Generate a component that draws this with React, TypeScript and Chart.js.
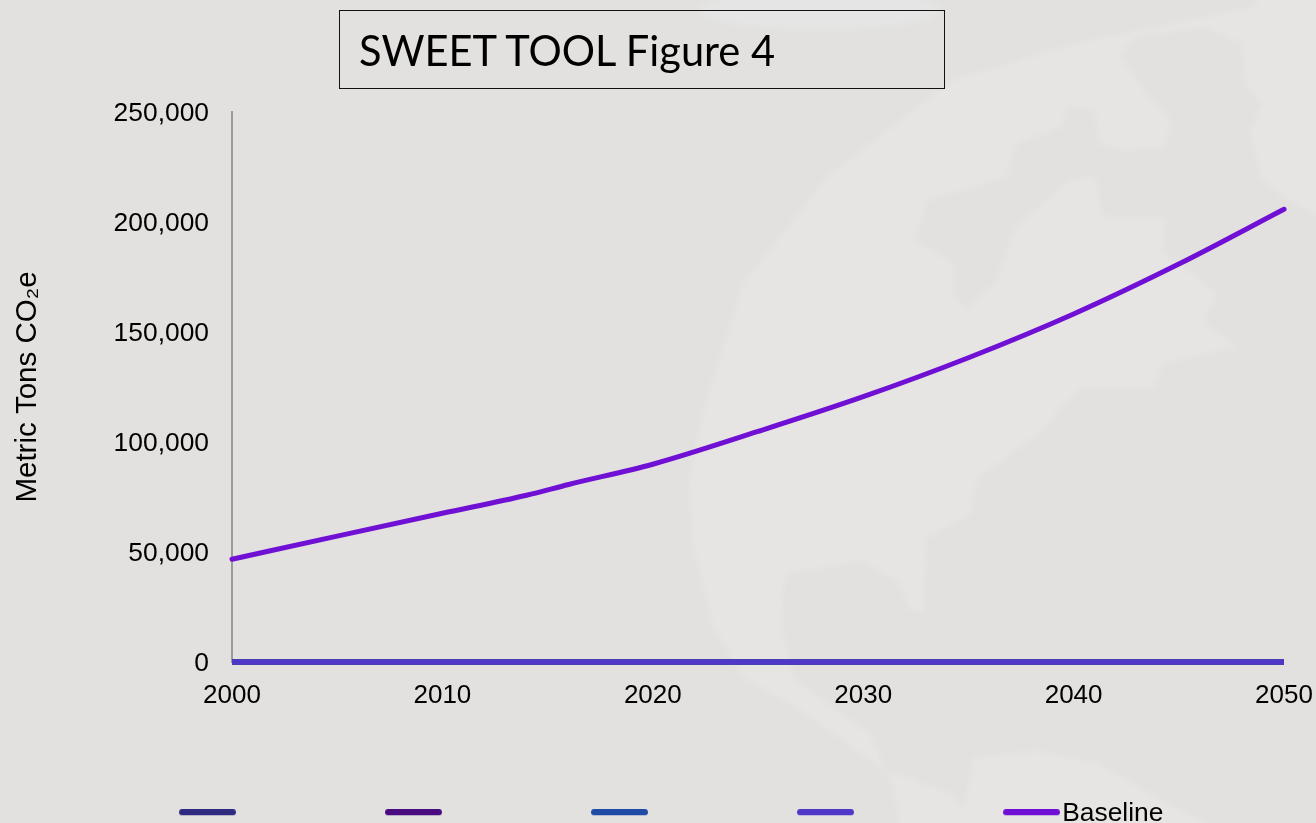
import React, { useEffect, useRef } from "react";
import { Chart, registerables } from "chart.js";

Chart.register(...registerables);

const years = [2000, 2005, 2010, 2014, 2016, 2020, 2025, 2030, 2035, 2040, 2045, 2050];
const baseline = [46700, 57200, 67600, 75800, 80700, 89900, 104800, 120600, 138300, 158200, 180900, 205800];
const scenarioA = [0, 0, 0, 0, 0, 0, 0, 0, 0, 0, 0, 0];
const scenarioB = [0, 0, 0, 0, 0, 0, 0, 0, 0, 0, 0, 0];
const scenarioC = [0, 0, 0, 0, 0, 0, 0, 0, 0, 0, 0, 0];
const scenarioD = [0, 0, 0, 0, 0, 0, 0, 0, 0, 0, 0, 0];
const seriesLabels = ["", "", "", "", "Baseline"];
const seriesColors = ["#2f2a80", "#4a0a80", "#1f4aa6", "#4f38c8", "#7010d4"];
const seriesValues = [scenarioA, scenarioB, scenarioC, scenarioD, baseline];
const yTicksMax = 250000;
const yTickStep = 50000;
const titleText = "SWEET TOOL Figure 4";
const yTitle = "Metric Tons CO\u2082e";

const LAND =
  "1254,7 1078,43 953,80 827,177 744,283 706,400 689,478 693,544 714,628 744,678 798,708 848,744 886,771 953,794 974,823 1000,830 " +
  "900,830 894,787 869,733 844,716 794,678 781,624 785,574 861,561 898,581 911,611 924,611 926,538 970,514 978,478 1045,428 1057,411 " +
  "1083,387 1154,387 1162,363 1237,347 1204,323 1216,293 1183,267 1162,253 1166,217 1103,217 1095,177 1070,180 1016,227 995,283 965,310 953,293 953,263 915,240 " +
  "928,200 1007,177 1016,143 1062,127 1066,107 1095,110 1099,143 1120,150 1166,147 1170,120 1141,87 1120,57 1133,37 1204,27 1242,43 1246,87 1262,103 1250,133 " +
  "1262,180 1284,197 1320,217 1320,-5 1260,-5";
const SOUTH = "974,758 1037,751 1099,764 1162,801 1221,830 960,830";

function makeBar(color: string) {
  const c = document.createElement("canvas");
  c.width = 57;
  c.height = 10;
  const g = c.getContext("2d")!;
  g.fillStyle = color;
  g.beginPath();
  g.roundRect(0, 0, 57, 6, 3);
  g.fill();
  return c;
}

export default function App() {
  const ref = useRef<HTMLCanvasElement>(null);
  useEffect(() => {
    const placeLegend = {
      id: "placeLegend",
      beforeLayout(chart: any) {
        const lg = chart.legend;
        if (lg && !lg.__patched) {
          lg.__patched = true;
          const orig = lg.fit;
          lg.fit = function () {
            this.maxWidth = 5000;
            orig.call(this);
            this.width = 1316;
            this.height = 20;
          };
        }
      },
      afterLayout(chart: any) {
        const lg = chart.legend;
        const pad = lg.options.labels.padding;
        lg.left = 190 - pad;
        lg.right = 3000;
        lg.top = 801 - pad;
        lg.bottom = 823;
      },
    };
    const chart = new Chart(ref.current!, {
      type: "line",
      data: {
        datasets: seriesValues.map((vals, i) => ({
          label: seriesLabels[i],
          data: years.map((y, j) => ({ x: y, y: vals[j] })),
          borderColor: seriesColors[i],
          backgroundColor: seriesColors[i],
          borderWidth: 5,
          borderCapStyle: i === 4 ? "round" : "butt",
          pointRadius: 0,
          cubicInterpolationMode: "monotone",
          clip: false,
          order: i === 3 ? 0 : i === 4 ? 1 : 5 - i,
        })),
      },
      options: {
        animation: false,
        responsive: false,
        layout: { padding: { top: 112, right: 32, left: 0, bottom: 0 } },
        plugins: {
          title: { display: false },
          tooltip: { enabled: false },
          legend: {
            display: true,
            position: "bottom",
            align: "start",
            labels: {
              usePointStyle: true,
              pointStyleWidth: 35,
              padding: 157.8,
              color: "#000",
              font: { family: "'Liberation Sans'", size: 26.4 },
              generateLabels: () =>
                seriesLabels.map((t, i) => ({
                  text: t,
                  datasetIndex: i,
                  pointStyle: makeBar(seriesColors[i]),
                  fontColor: "#000",
                  hidden: false,
                  lineWidth: 0,
                  strokeStyle: "transparent",
                  fillStyle: seriesColors[i],
                })),
            },
          },
        },
        scales: {
          x: {
            type: "linear",
            min: years[0],
            max: years[years.length - 1],
            afterFit(s: any) {
              s.height = 141;
              s.paddingLeft = 0;
              s.paddingRight = 0;
            },
            grid: { display: false, drawTicks: false },
            border: { display: false },
            ticks: {
              stepSize: 10,
              padding: 18,
              color: "#000",
              maxRotation: 0,
              font: { family: "'Liberation Sans'", size: 26 },
              callback: (v: any) => String(v),
            },
          },
          y: {
            min: 0,
            max: yTicksMax,
            afterFit(s: any) {
              s.width = 232;
              s.paddingTop = 0;
              s.paddingBottom = 0;
            },
            grid: { display: false, drawTicks: false },
            border: { display: true, color: "#9a9a98", width: 2 },
            title: {
              display: true,
              text: yTitle,
              color: "#000",
              font: { family: "'Liberation Sans'", size: 29.5 },
              padding: { top: 10, bottom: 0 },
            },
            ticks: {
              stepSize: yTickStep,
              padding: 23,
              color: "#000",
              labelOffset: 2,
              font: { family: "'Liberation Sans'", size: 26.4 },
              callback: (v: any) => Number(v).toLocaleString("en-US"),
            },
          },
        },
      } as any,
      plugins: [placeLegend as any],
    });
    return () => chart.destroy();
  }, []);
  return (
    <div style={{ position: "fixed", left: 0, top: 0, width: 1316, height: 823, overflow: "hidden", background: "#e2e1df" }}>
      <svg width={1316} height={823} style={{ position: "absolute", left: 0, top: 0 }}>
        <defs>
          <filter id="soft">
            <feGaussianBlur stdDeviation="2.5" />
          </filter>
        </defs>
        <g filter="url(#soft)" fill="#e6e5e3">
          <polygon points={LAND} />
          <polygon points={SOUTH} />
          <ellipse cx={820} cy={10} rx={120} ry={20} fill="#e4e5e4" />
        </g>
      </svg>
      <canvas ref={ref} width={1316} height={823} style={{ position: "absolute", left: 0, top: 0, display: "block" }} />
      <div
        style={{
          position: "absolute",
          left: 339,
          top: 10,
          width: 606,
          height: 79,
          boxSizing: "border-box",
          border: "1.4px solid #111",
          fontFamily: "Lato, 'Open Sans', sans-serif",
          fontSize: 41.6,
          lineHeight: "78px",
          paddingLeft: 19,
          color: "#000",
          whiteSpace: "nowrap",
        }}
      >
        {titleText}
      </div>
    </div>
  );
}
